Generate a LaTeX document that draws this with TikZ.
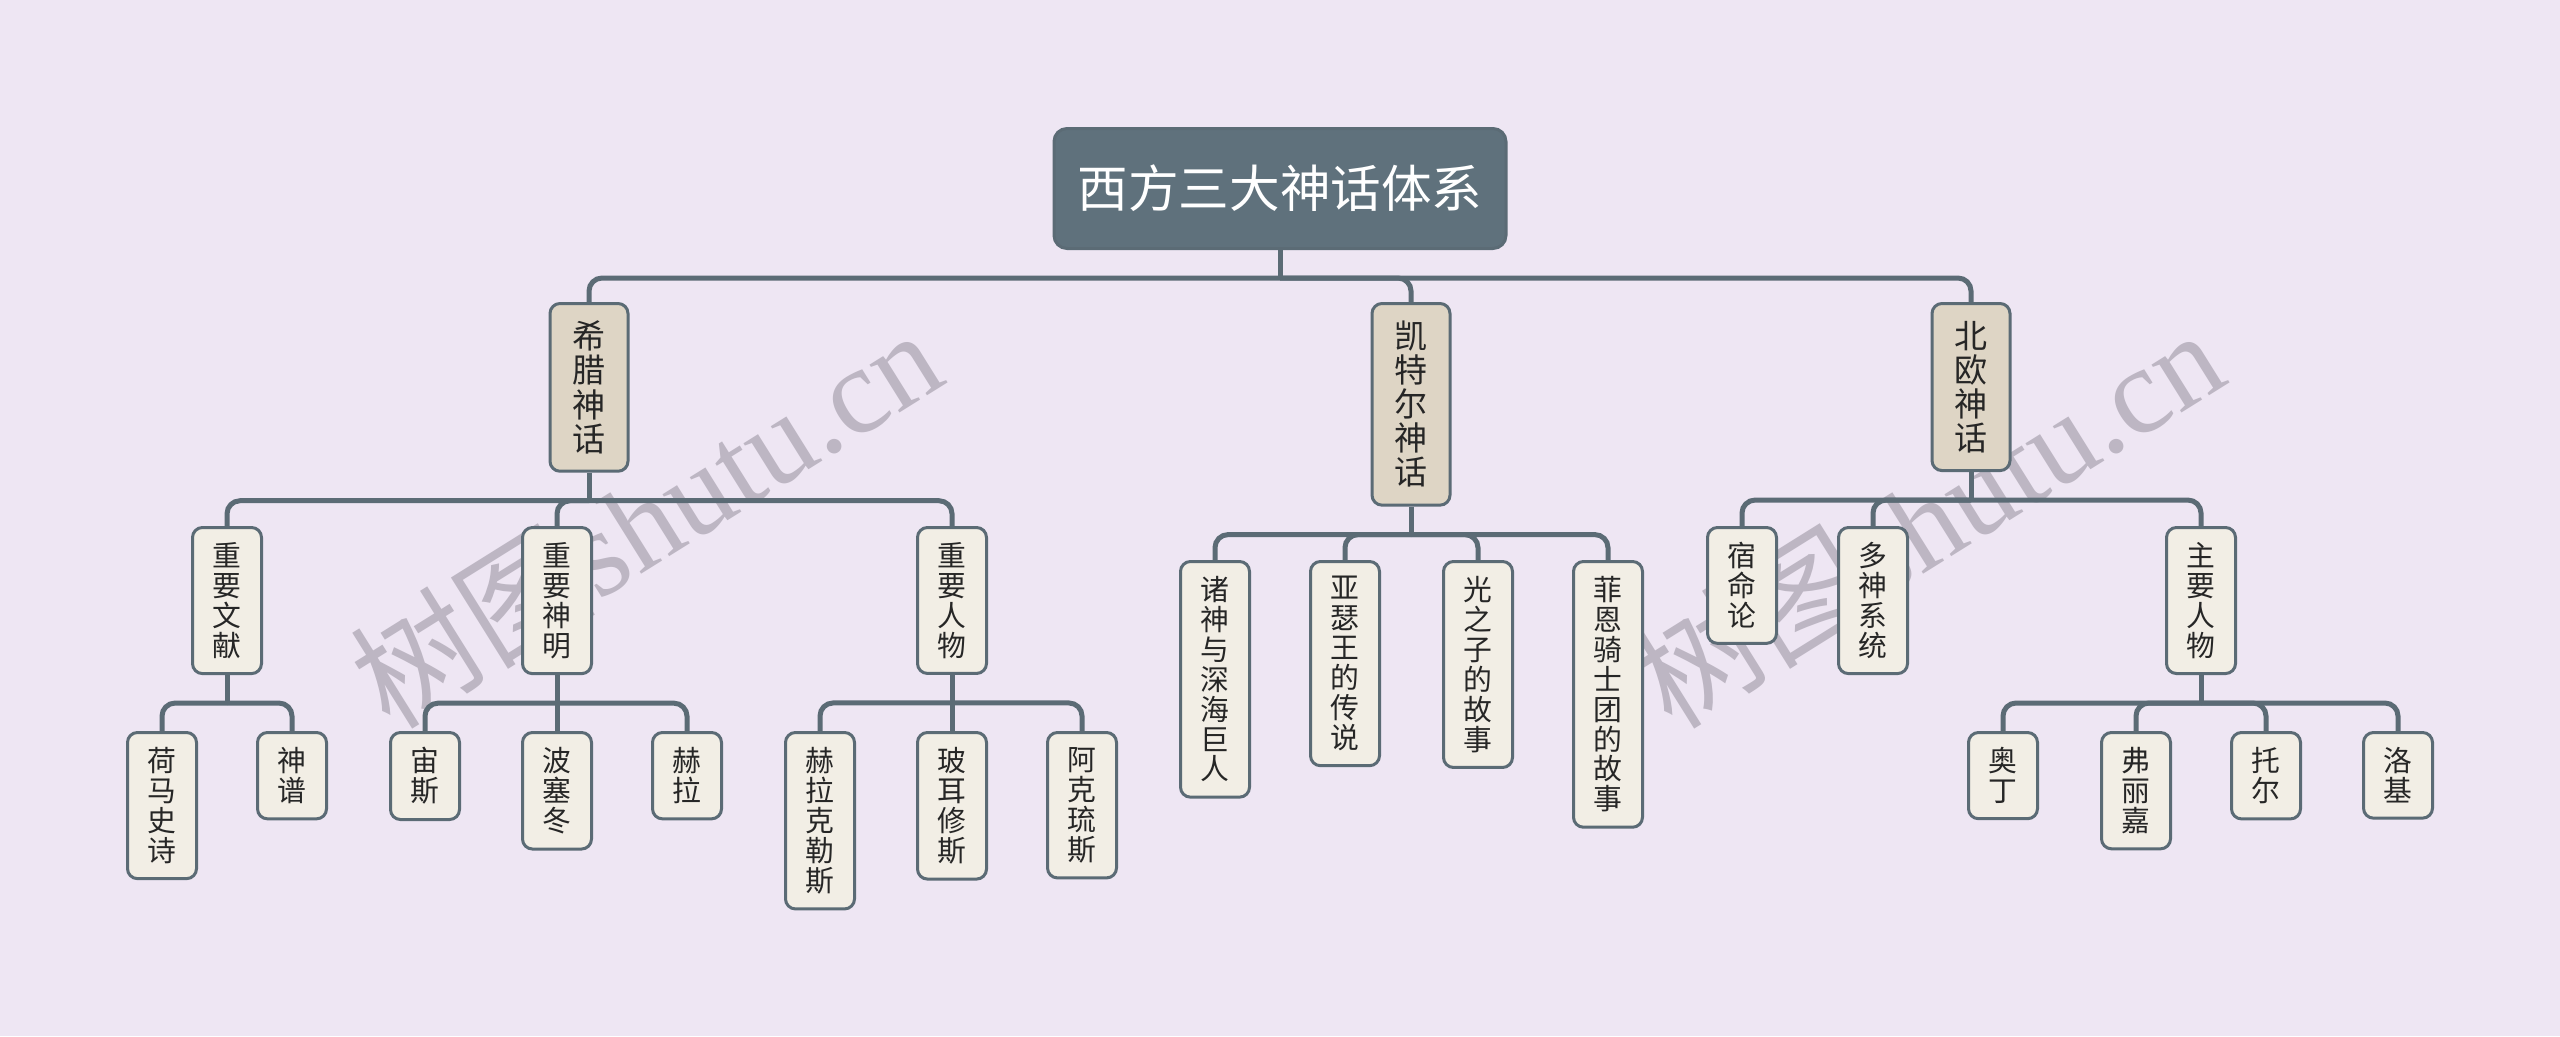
\documentclass[tikz,border=0pt]{standalone}
\usepackage{fontspec}
\setmainfont{Noto Sans CJK SC}
\newfontfamily\wmlatin{Liberation Serif}
\usetikzlibrary{positioning,calc}
\definecolor{MAPbg}{HTML}{EEE6F3}
\definecolor{MAPslate}{HTML}{5F717C}
\definecolor{MAPline}{HTML}{5B6B75}
\definecolor{MAPtan}{HTML}{DED5C5}
\definecolor{MAPcream}{HTML}{F2EEE5}
\definecolor{MAPmark}{HTML}{BDB6C3}
\tikzset{rootbox/.style={draw=MAPline,line width=0.03cm,fill=MAPslate,rounded corners=0.13cm,
 text=white,minimum width=4.52cm,minimum height=1.2cm,font=\fontsize{14.4}{16}\selectfont},
 topicbox/.style={draw=MAPline,line width=0.03cm,fill=MAPtan,rounded corners=0.1cm,align=center,
 text=black!85,minimum width=0.78cm,inner xsep=0pt,inner ysep=0.175cm,anchor=north,
 font=\fontsize{9.4}{9.7}\selectfont},
 leafbox/.style={draw=MAPline,line width=0.03cm,fill=MAPcream,rounded corners=0.1cm,align=center,
 text=black!85,minimum width=0.69cm,inner xsep=0pt,inner ysep=0.15cm,anchor=north,
 font=\fontsize{8.2}{8.5}\selectfont},
 branch/.style={draw=MAPline,line width=0.05cm,rounded corners=0.13cm},
 wmark/.style={text=MAPmark,font=\fontsize{35}{35}\selectfont,rotate=32}}

\begin{document}
\begin{tikzpicture}
\useasboundingbox (0,0) rectangle (25.6,-10.36);
\fill[MAPbg] (0,0) rectangle (25.6,-10.36);
% watermarks
\node[wmark] (markA) at (6.45,-5.17) {树图{\wmlatin shutu.cn}};
\node[wmark] (markB) at (19.27,-5.17) {树图{\wmlatin shutu.cn}};
% root and the three systems
\node[rootbox,anchor=north] (root) at (12.8,-1.27) {西方三大神话体系};
\node[topicbox] (greek) at (5.89,-3.02) {希\\腊\\神\\话};
\node[topicbox] (celtic) at (14.11,-3.02) {凯\\特\\尔\\神\\话};
\node[topicbox] (norse) at (19.71,-3.02) {北\\欧\\神\\话};
% greek
\node[leafbox] (gdocs) at (2.27,-5.26) {重\\要\\文\\献};
\node[leafbox] (ggods) at (5.57,-5.26) {重\\要\\神\\明};
\node[leafbox] (gheroes) at (9.52,-5.26) {重\\要\\人\\物};
\node[leafbox] (homer) at (1.62,-7.31) {荷\\马\\史\\诗};
\node[leafbox] (theog) at (2.92,-7.31) {神\\谱};
\node[leafbox] (zeus) at (4.25,-7.31) {宙\\斯};
\node[leafbox] (poseidon) at (5.57,-7.31) {波\\塞\\冬};
\node[leafbox] (hera) at (6.87,-7.31) {赫\\拉};
\node[leafbox] (heracles) at (8.20,-7.31) {赫\\拉\\克\\勒\\斯};
\node[leafbox] (perseus) at (9.52,-7.31) {玻\\耳\\修\\斯};
\node[leafbox] (achilles) at (10.82,-7.31) {阿\\克\\琉\\斯};
% celtic
\node[leafbox] (cgods) at (12.15,-5.60) {诸\\神\\与\\深\\海\\巨\\人};
\node[leafbox] (arthur) at (13.45,-5.60) {亚\\瑟\\王\\的\\传\\说};
\node[leafbox] (lugh) at (14.78,-5.60) {光\\之\\子\\的\\故\\事};
\node[leafbox] (fianna) at (16.08,-5.60) {菲\\恩\\骑\\士\\团\\的\\故\\事};
% norse
\node[leafbox] (fate) at (17.42,-5.26) {宿\\命\\论};
\node[leafbox] (poly) at (18.73,-5.26) {多\\神\\系\\统};
\node[leafbox] (nheroes) at (22.01,-5.26) {主\\要\\人\\物};
\node[leafbox] (odin) at (20.03,-7.31) {奥\\丁};
\node[leafbox] (frigg) at (21.36,-7.31) {弗\\丽\\嘉};
\node[leafbox] (thor) at (22.66,-7.31) {托\\尔};
\node[leafbox] (loki) at (23.98,-7.31) {洛\\基};
% connectors
\foreach \p in {root,greek,celtic,norse,gdocs,ggods,gheroes,nheroes}{
 \coordinate (\p-bus) at ($(\p.south)+(0,-0.28)$);
 \draw[branch] (\p.south) -- (\p-bus);}
\foreach \p/\c in {root/greek,root/celtic,root/norse,greek/gdocs,greek/ggods,greek/gheroes,
 gdocs/homer,gdocs/theog,ggods/zeus,ggods/poseidon,ggods/hera,gheroes/heracles,gheroes/perseus,
 gheroes/achilles,celtic/cgods,celtic/arthur,celtic/lugh,celtic/fianna,norse/fate,norse/poly,
 norse/nheroes,nheroes/odin,nheroes/frigg,nheroes/thor,nheroes/loki}
 \draw[branch] (\p-bus) -| (\c.north);
\end{tikzpicture}
\end{document}
